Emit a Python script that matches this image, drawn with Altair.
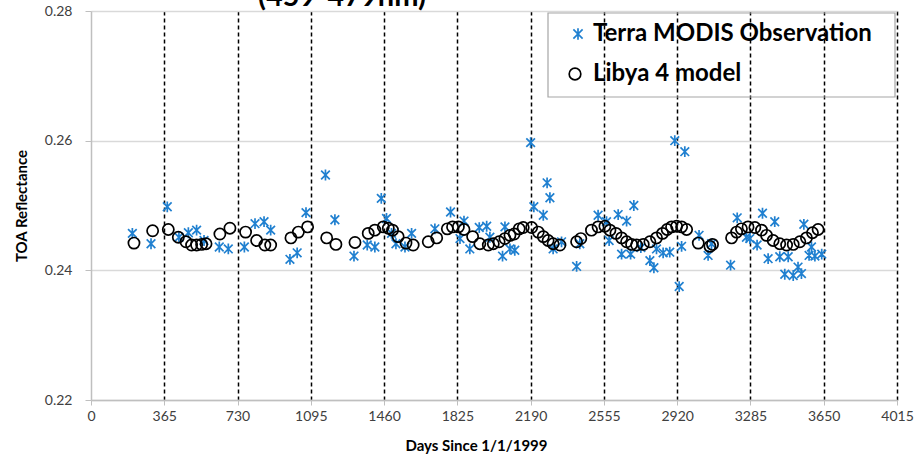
import altair as alt
import pandas as pd

# ---- data ----
obs_day = [206, 299, 380, 438, 485, 526, 563, 639, 684, 764, 817, 862, 895, 991, 1027, 1071,
           1168, 1215, 1310, 1376, 1414, 1446, 1472, 1497, 1519, 1564, 1597, 1713, 1791, 1838,
           1858, 1887, 1934, 1971, 1987, 2050, 2062, 2087, 2111, 2190, 2206, 2253, 2272, 2286,
           2302, 2344, 2419, 2435, 2526, 2568, 2581, 2626, 2643, 2668, 2688, 2704, 2739, 2784,
           2804, 2817, 2850, 2883, 2908, 2930, 2942, 2958, 3029, 3074, 3091, 3186, 3219, 3265,
           3282, 3318, 3345, 3373, 3406, 3431, 3456, 3473, 3498, 3522, 3539, 3551, 3577, 3589,
           3606, 3640]
obs_val = [0.2457, 0.2441, 0.2498, 0.2451, 0.2458, 0.2462, 0.2446, 0.2436, 0.2433, 0.2436,
           0.2472, 0.2475, 0.2462, 0.2417, 0.2427, 0.2489, 0.2547, 0.2478, 0.2422, 0.2439,
           0.2436, 0.2511, 0.2480, 0.2457, 0.2441, 0.2436, 0.2457, 0.2464, 0.2490, 0.2449,
           0.2476, 0.2433, 0.2466, 0.2468, 0.2451, 0.2422, 0.2467, 0.2433, 0.2431, 0.2597,
           0.2498, 0.2485, 0.2535, 0.2512, 0.2433, 0.2444, 0.2406, 0.2441, 0.2485, 0.2475,
           0.2446, 0.2486, 0.2425, 0.2476, 0.2425, 0.2500, 0.2435, 0.2415, 0.2404, 0.2433,
           0.2427, 0.2428, 0.2600, 0.2375, 0.2437, 0.2583, 0.2454, 0.2423, 0.2441, 0.2408,
           0.2481, 0.2451, 0.2449, 0.2439, 0.2488, 0.2418, 0.2475, 0.2421, 0.2394, 0.2421,
           0.2392, 0.2405, 0.2395, 0.2471, 0.2423, 0.2436, 0.2422, 0.2425]

mod_day = [214, 307, 385, 435, 473, 501, 526, 551, 573, 642, 692, 770, 825, 866, 895, 996,
           1033, 1079, 1174, 1220, 1315, 1381, 1414, 1456, 1481, 1502, 1530, 1569, 1605, 1680,
           1722, 1775, 1801, 1830, 1858, 1901, 1937, 1979, 2004, 2033, 2062, 2087, 2108, 2133,
           2153, 2195, 2228, 2253, 2277, 2302, 2336, 2419, 2440, 2493, 2526, 2560, 2585, 2615,
           2643, 2668, 2693, 2718, 2751, 2784, 2817, 2847, 2870, 2892, 2917, 2942, 2967, 3025,
           3083, 3096, 3191, 3216, 3240, 3273, 3307, 3340, 3365, 3398, 3431, 3465, 3498, 3531,
           3564, 3594, 3622]
mod_val = [0.2442, 0.2461, 0.2463, 0.2451, 0.2444, 0.2439, 0.2439, 0.2440, 0.2441, 0.2456,
           0.2465, 0.2459, 0.2446, 0.2439, 0.2439, 0.2450, 0.2459, 0.2467, 0.2450, 0.2440,
           0.2443, 0.2457, 0.2462, 0.2467, 0.2465, 0.2462, 0.2452, 0.2442, 0.2439, 0.2444,
           0.2450, 0.2464, 0.2467, 0.2467, 0.2463, 0.2452, 0.2441, 0.2439, 0.2441, 0.2444,
           0.2449, 0.2454, 0.2456, 0.2464, 0.2466, 0.2466, 0.2459, 0.2452, 0.2446, 0.2441,
           0.2439, 0.2444, 0.2449, 0.2462, 0.2467, 0.2468, 0.2462, 0.2457, 0.2450, 0.2444,
           0.2440, 0.2439, 0.2440, 0.2444, 0.2450, 0.2457, 0.2463, 0.2467, 0.2468, 0.2467,
           0.2463, 0.2442, 0.2437, 0.2440, 0.2450, 0.2459, 0.2464, 0.2467, 0.2466, 0.2462,
           0.2454, 0.2446, 0.2441, 0.2439, 0.2440, 0.2444, 0.2450, 0.2458, 0.2463]

x_ticks = [0, 365, 730, 1095, 1460, 1825, 2190, 2555, 2920, 3285, 3650, 4015]
y_ticks = [0.22, 0.24, 0.26, 0.28]
series_names = ["Terra MODIS Observation", "Libya 4 model"]
series_colors = ["#2080d0", "#000000"]
title_text = "(459-479nm)"

# ---- build table ----
df = pd.concat([
    pd.DataFrame({"day": obs_day, "val": obs_val, "series": series_names[0]}),
    pd.DataFrame({"day": mod_day, "val": mod_val, "series": series_names[1]}),
], ignore_index=True)

FONT = "Lato"
STAR = "M-1,-1L1,1M-1,1L1,-1M0,-1.25L0,1.25"
shape_range = [STAR, "circle"]
size_range = [75, 125]

points = alt.Chart(df).mark_point(filled=False, strokeWidth=1.7, opacity=1).encode(
    x=alt.X("day:Q",
            scale=alt.Scale(domain=[0, 4015], nice=False, zero=False),
            axis=alt.Axis(values=x_ticks, format="d", title="Days Since 1/1/1999",
                          grid=True, gridColor="#000000", gridDash=[4, 3], gridWidth=1.5,
                          gridOpacity={"condition": {"test": "datum.value == 0", "value": 0}, "value": 1},
                          domainColor="#bfbfbf", domainWidth=1.5, tickColor="#bfbfbf", tickSize=5,
                          labelPadding=4, labelFontSize=14, labelColor="#404040", labelFont=FONT,
                          titleFont=FONT, titleFontSize=15, titleFontWeight="bold", titleColor="#000000",
                          titlePadding=15, titleX=385, labelFlush=False)),
    y=alt.Y("val:Q",
            scale=alt.Scale(domain=[0.22, 0.28], nice=False, zero=False),
            axis=alt.Axis(values=y_ticks, format=".2f", title="TOA Reflectance",
                          grid=True, gridColor="#d9d9d9", gridWidth=1.5,
                          domainColor="#bfbfbf", domainWidth=1.5, tickColor="#bfbfbf", tickSize=6,
                          labelPadding=13, labelFontSize=14, labelColor="#404040", labelFont=FONT,
                          titleFont=FONT, titleFontSize=15, titleFontWeight="bold", titleColor="#000000",
                          titlePadding=15)),
    shape=alt.Shape("series:N", scale=alt.Scale(domain=series_names, range=shape_range), legend=None),
    stroke=alt.Stroke("series:N", scale=alt.Scale(domain=series_names, range=series_colors), legend=None),
    size=alt.Size("series:N", scale=alt.Scale(domain=series_names, range=size_range), legend=None),
)

title_layer = alt.Chart(pd.DataFrame({"t": [title_text]})).mark_text(
    font=FONT, fontSize=29, fontWeight="bold", color="#000000", align="center", baseline="alphabetic"
).encode(text="t:N", x=alt.value(251), y=alt.value(-5))

# ---- hand-built legend box (positions relative to the plot area) ----
legend_box = alt.Chart(pd.DataFrame({"k": [0]})).mark_rect(
    fill=None, stroke="#a6a6a6", strokeWidth=1.2
).encode(x=alt.value(457), x2=alt.value(804), y=alt.value(2), y2=alt.value(86))

legend_layers = [legend_box]
legend_rows_y = [23, 63]
for i, name in enumerate(series_names):
    ldf = pd.DataFrame({"series": [name]})
    legend_layers.append(
        alt.Chart(ldf).mark_point(filled=False, strokeWidth=1.7, opacity=1,
                                  shape=shape_range[i], size=size_range[i] + 10,
                                  stroke=series_colors[i]).encode(
            x=alt.value(487 if i == 0 else 484), y=alt.value(legend_rows_y[i]))
    )
    legend_layers.append(
        alt.Chart(ldf).mark_text(font=FONT, fontSize=24, fontWeight="bold", color="#000000",
                                 align="left", baseline="middle").encode(
            text="series:N", x=alt.value(502), y=alt.value(legend_rows_y[i]))
    )

chart = alt.layer(points, title_layer, *legend_layers).properties(
    width=806, height=389,
    autosize=alt.AutoSizeParams(type="none"),
    padding={"left": 91, "top": 11, "right": 20, "bottom": 57},
    background="white",
).configure_view(stroke=None)

chart.save("out.html", embed_options={"renderer": "svg", "actions": False})
